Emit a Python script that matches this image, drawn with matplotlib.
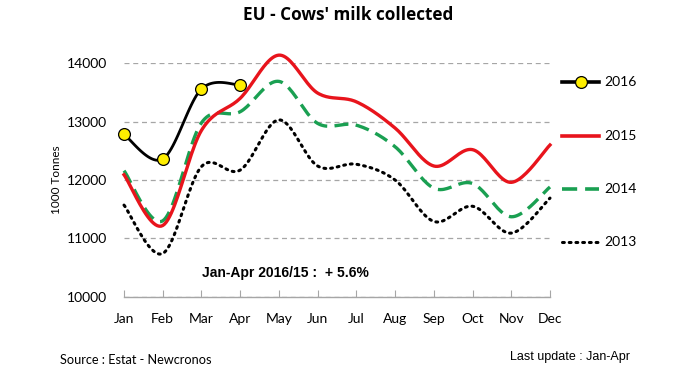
import matplotlib.pyplot as plt
import numpy as np
from matplotlib.lines import Line2D

months = ["Jan", "Feb", "Mar", "Apr", "May", "Jun", "Jul", "Aug", "Sep", "Oct", "Nov", "Dec"]
milk_2016 = [12780, 12360, 13560, 13630]
milk_2015 = [12090, 11220, 12850, 13400, 14140, 13490, 13340, 12890, 12240, 12520, 11960, 12600]
milk_2014 = [12160, 11300, 12980, 13170, 13690, 12970, 12940, 12570, 11860, 11940, 11370, 11880]
milk_2013 = [11570, 10740, 12230, 12170, 13030, 12240, 12270, 12000, 11290, 11550, 11090, 11690]
yticks = [10000, 11000, 12000, 13000, 14000]


def smooth(xs, ys, n=24):
    # Catmull-Rom style curve, like Excel's "smoothed line"
    p = np.column_stack([xs, ys]).astype(float)
    p = np.vstack([p[0], p, p[-1]])
    out = []
    for i in range(1, len(p) - 2):
        p0, p1, p2, p3 = p[i - 1], p[i], p[i + 1], p[i + 2]
        c1 = p1 + (p2 - p0) / 6
        c2 = p2 - (p3 - p1) / 6
        t = np.linspace(0, 1, n)[:, None]
        seg = (1 - t) ** 3 * p1 + 3 * (1 - t) ** 2 * t * c1 + 3 * (1 - t) * t ** 2 * c2 + t ** 3 * p2
        out.append(seg if i == 1 else seg[1:])
    out = np.vstack(out)
    return out[:, 0], out[:, 1]


fig = plt.figure(figsize=(6.88, 3.83), dpi=100)
ax = fig.add_axes([124 / 688, 1 - 296.7 / 383, 426 / 688, 233.4 / 383])

x = np.arange(len(months))
sx, sy = smooth(x, milk_2013)
ax.plot(sx, sy, color="black", lw=2.2, linestyle=(0, (0.6, 1.6)), dash_capstyle="round", clip_on=False, zorder=3)
sx, sy = smooth(x, milk_2014)
ax.plot(sx, sy, color="#1aa052", lw=2.4, linestyle=(0, (4.2, 2.2)), clip_on=False, zorder=4)
sx, sy = smooth(x, milk_2015)
ax.plot(sx, sy, color="#e8141c", lw=2.4, clip_on=False, zorder=5)
x16 = np.arange(len(milk_2016))
sx, sy = smooth(x16, milk_2016)
ax.plot(sx, sy, color="black", lw=2.0, clip_on=False, zorder=6)
ax.plot(x16, milk_2016, linestyle="none", marker="o", ms=8.5, mfc="#ffee00", mec="black", mew=0.9,
        clip_on=False, zorder=7)

ax.set_xlim(0, 11)
ax.set_ylim(10000, 14000)
ax.set_yticks(yticks)
ax.set_xticks(x)
ax.set_xticklabels(months)
ax.grid(axis="y", color="#a6a6a6", linestyle=(0, (4, 3)), linewidth=0.9)
for side in ["top", "right", "left"]:
    ax.spines[side].set_visible(False)
ax.spines["bottom"].set_color("#a6a6a6")
ax.spines["bottom"].set_linewidth(1.0)
ax.tick_params(axis="x", direction="in", length=5, color="#a6a6a6", pad=12, labelsize=10)
ax.tick_params(axis="y", length=0, pad=12, labelsize=10)
for lab in ax.get_xticklabels() + ax.get_yticklabels():
    lab.set_family("Lato")
ax.set_ylabel("1000 Tonnes", family="Lato", fontsize=8.5, labelpad=4)

ax.text(0.378, 0.102, "Jan-Apr 2016/15 :  + 5.6%", transform=ax.transAxes, ha="center", va="center",
        family="Liberation Sans", fontweight="bold", fontsize=10)

# legend drawn by hand on the right
W, H = 688, 383
legend_items = [
    (82.3, "2016", dict(color="black", lw=2.6), True),
    (135.7, "2015", dict(color="#e8141c", lw=2.6), False),
    (189, "2014", dict(color="#1aa052", lw=2.6, linestyle=(0, (4.2, 2.2))), False),
    (242.3, "2013", dict(color="black", lw=2.2, linestyle=(0, (0.6, 1.6)), dash_capstyle="round"), False),
]
for ypx, label, style, marker in legend_items:
    yf = 1 - ypx / H
    fig.add_artist(Line2D([562 / W, 599 / W], [yf, yf], transform=fig.transFigure, **style))
    if marker:
        fig.add_artist(Line2D([580.5 / W], [yf], transform=fig.transFigure, marker="o", ms=8.5,
                              mfc="#ffee00", mec="black", mew=0.9, linestyle="none"))
    fig.text(604 / W, yf, label, family="Lato", fontsize=10, ha="left", va="center")

fig.text(348 / W, 1 - 15 / H, "EU - Cows' milk collected", family="Open Sans", fontweight="bold",
         fontsize=12.3, ha="center", va="center")
fig.text(60 / W, 1 - 360.5 / H, "Source : Estat - Newcronos", family="Lato", fontsize=9.2,
         ha="left", va="center")
fig.text(630 / W, 1 - 357 / H, "Last update : Jan-Apr", family="Liberation Sans", fontsize=9,
         ha="right", va="center")

fig.savefig("out.png", dpi=100, facecolor="white")
